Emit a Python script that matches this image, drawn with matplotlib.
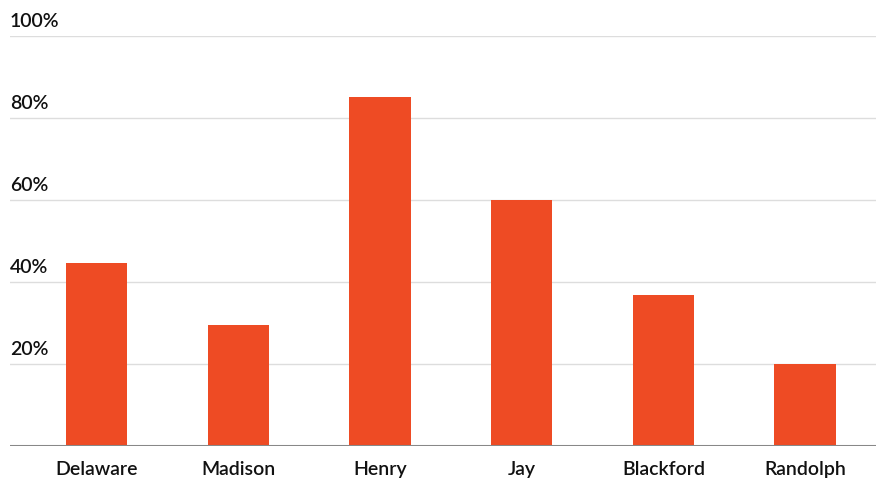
import matplotlib
matplotlib.use("Agg")
import matplotlib.pyplot as plt
import matplotlib.transforms as mtransforms

categories = ["Delaware", "Madison", "Henry", "Jay", "Blackford", "Randolph"]
values = [44.6, 29.5, 85.1, 60.0, 36.8, 20.0]
yticks = [20, 40, 60, 80, 100]
ytick_labels = ["20%", "40%", "60%", "80%", "100%"]

plt.rcParams['font.family'] = ['Lato', 'DejaVu Sans']

W, H = 880, 485
fig = plt.figure(figsize=(W / 100, H / 100), dpi=100)
ax = fig.add_axes([10 / W, 38 / H, 866 / W, 410 / H])

x = list(range(len(categories)))
ax.bar(x, values, width=0.433, color="#EE4B24", zorder=3)

ax.set_xlim(-0.611, 5.50)
ax.set_ylim(0, 100)

for t in yticks:
    ax.axhline(t, color="#dddddd", linewidth=1, zorder=1)
ax.axhline(0, color="#888888", linewidth=2.2, zorder=4)

trans = mtransforms.blended_transform_factory(ax.transAxes, ax.transData)
off = mtransforms.ScaledTranslation(0, 7 / 100, fig.dpi_scale_trans)
for t, lab in zip(yticks, ytick_labels):
    ax.text(0.0, t, lab, transform=trans + off, ha="left", va="bottom",
            fontsize=14, color="#111111", fontweight="semibold")

ax.set_xticks(x)
ax.set_xticklabels(categories, fontsize=14, color="#111111", fontweight="semibold")
ax.tick_params(axis="x", length=0, pad=10)
ax.set_yticks([])
for s in ax.spines.values():
    s.set_visible(False)

fig.savefig("out.png", dpi=100)
